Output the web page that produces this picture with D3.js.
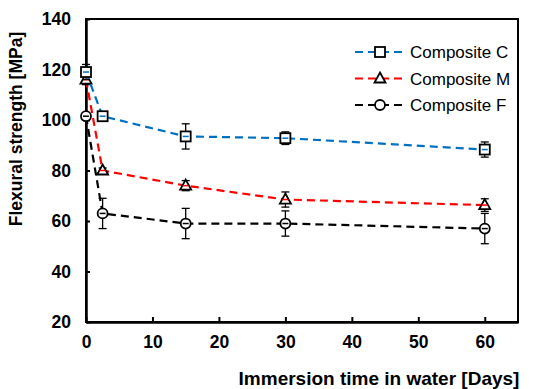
<!DOCTYPE html>
<html>
<head>
<meta charset="utf-8">
<script src="https://cdn.jsdelivr.net/npm/d3@7"></script>
<style>
  body { margin: 0; background: #fff; }
  svg { font-family: "Liberation Sans", Arial, sans-serif; }
</style>
</head>
<body>
<div id="chart"></div>
<script>
// immersion time (days)
const days = [0, 2.5, 15, 30, 60];

// flexural strength [MPa] and error bars per composite
const compositeC = [119, 101.5, 93.5, 92.8, 88.3];
const compositeCErr = [3, 1, 5, 2.5, 3];
const compositeM = [116, 80, 74, 68.5, 66.3];
const compositeMErr = [2, 1, 2, 3, 2.5];
const compositeF = [101.5, 63, 59, 59, 57];
const compositeFErr = [1, 6, 6, 5, 6];

const xTicks = [0, 10, 20, 30, 40, 50, 60];
const yTicks = [20, 40, 60, 80, 100, 120, 140];

const series = [
    { name: "Composite C", values: compositeC, err: compositeCErr, color: "#0070C0", marker: "square" },
    { name: "Composite M", values: compositeM, err: compositeMErr, color: "#FF0000", marker: "triangle" },
    { name: "Composite F", values: compositeF, err: compositeFErr, color: "#000000", marker: "circle" }
];

const width = 540, height = 389;
const margin = { left: 86, right: 22, top: 19, bottom: 67 };

const svg = d3.select("#chart")
    .append("svg")
    .attr("width", width)
    .attr("height", height);

const x = d3.scaleLinear()
    .domain([0, 65])
    .range([margin.left, width - margin.right]);

const y = d3.scaleLinear()
    .domain([20, 140])
    .range([height - margin.bottom, margin.top]);

// plot frame
svg.append("rect")
    .attr("x", x(0))
    .attr("y", y(140))
    .attr("width", x(65) - x(0))
    .attr("height", y(20) - y(140))
    .attr("fill", "none")
    .attr("stroke", "#000")
    .attr("stroke-width", 2);

// X axis (inner ticks)
const xAxis = svg.append("g")
    .attr("transform", `translate(0, ${y(20)})`)
    .call(d3.axisBottom(x).tickValues(xTicks).tickSizeInner(-5).tickSizeOuter(0).tickPadding(14));
xAxis.select(".domain").attr("stroke-width", 2.5);
xAxis.selectAll(".tick line").attr("stroke-width", 2);
xAxis.selectAll("text")
    .attr("font-size", 17.5)
    .attr("font-weight", "bold")
    .attr("font-family", "Liberation Sans, Arial, sans-serif");

// Y axis (inner ticks)
const yAxis = svg.append("g")
    .attr("transform", `translate(${x(0)}, 0)`)
    .call(d3.axisLeft(y).tickValues(yTicks).tickSizeInner(-4).tickSizeOuter(0).tickPadding(15));
yAxis.select(".domain").attr("stroke-width", 2.5);
yAxis.selectAll(".tick line").attr("stroke-width", 2);
yAxis.selectAll("text")
    .attr("font-size", 17.5)
    .attr("font-weight", "bold")
    .attr("font-family", "Liberation Sans, Arial, sans-serif");

// axis titles
svg.append("text")
    .attr("x", 379)
    .attr("y", 385)
    .attr("text-anchor", "middle")
    .attr("font-size", 19)
    .attr("font-weight", "bold")
    .text("Immersion time in water [Days]");

svg.append("text")
    .attr("transform", `translate(22, 129) rotate(-90)`)
    .attr("text-anchor", "middle")
    .attr("font-size", 17.5)
    .attr("font-weight", "bold")
    .text("Flexural strength [MPa]");

function drawMarker(g, type, cx, cy) {
    if (type === "square") {
        g.append("rect")
            .attr("x", cx - 5).attr("y", cy - 5)
            .attr("width", 10).attr("height", 10)
            .attr("fill", "#fff").attr("stroke", "#000").attr("stroke-width", 1.8);
    } else if (type === "triangle") {
        g.append("path")
            .attr("d", `M${cx},${cy - 6}L${cx + 5.5},${cy + 4}L${cx - 5.5},${cy + 4}Z`)
            .attr("fill", "#fff").attr("stroke", "#000").attr("stroke-width", 1.8);
    } else {
        g.append("circle")
            .attr("cx", cx).attr("cy", cy).attr("r", 5)
            .attr("fill", "#fff").attr("stroke", "#000").attr("stroke-width", 1.8);
    }
}

const line = d3.line()
    .x((d, i) => x(days[i]))
    .y(d => y(d));

// draw F first so C sits on top
series.slice().reverse().forEach(s => {
    const g = svg.append("g");

    g.append("path")
        .datum(s.values)
        .attr("d", line)
        .attr("fill", "none")
        .attr("stroke", s.color)
        .attr("stroke-width", 2.2)
        .attr("stroke-dasharray", "8,5");

    // error bars
    s.values.forEach((v, i) => {
        const cx = x(days[i]);
        const top = y(v + s.err[i]), bot = y(v - s.err[i]);
        g.append("line")
            .attr("x1", cx).attr("x2", cx).attr("y1", top).attr("y2", bot)
            .attr("stroke", "#000").attr("stroke-width", 1.3);
        [top, bot].forEach(yy => {
            g.append("line")
                .attr("x1", cx - 4).attr("x2", cx + 4).attr("y1", yy).attr("y2", yy)
                .attr("stroke", "#000").attr("stroke-width", 1.3);
        });
    });

    s.values.forEach((v, i) => drawMarker(g, s.marker, x(days[i]), y(v)));

    // small center line through the marker (like the original)
    g.selectAll(".mline")
        .data(s.values)
        .enter().append("line")
        .attr("x1", (d, i) => x(days[i]) - 3)
        .attr("x2", (d, i) => x(days[i]) + 3)
        .attr("y1", d => y(d))
        .attr("y2", d => y(d))
        .attr("stroke", s.color)
        .attr("stroke-width", 1.5);
});

// legend
const legend = svg.append("g");
series.forEach((s, i) => {
    const ly = 52 + i * 26.5;
    legend.append("line")
        .attr("x1", 355).attr("x2", 404)
        .attr("y1", ly).attr("y2", ly)
        .attr("stroke", s.color)
        .attr("stroke-width", 2.2)
        .attr("stroke-dasharray", "8,5");
    drawMarker(legend, s.marker, 380, ly);
    legend.append("text")
        .attr("x", 410)
        .attr("y", ly + 6)
        .attr("font-size", 17)
        .text(s.name);
});
</script>
</body>
</html>
